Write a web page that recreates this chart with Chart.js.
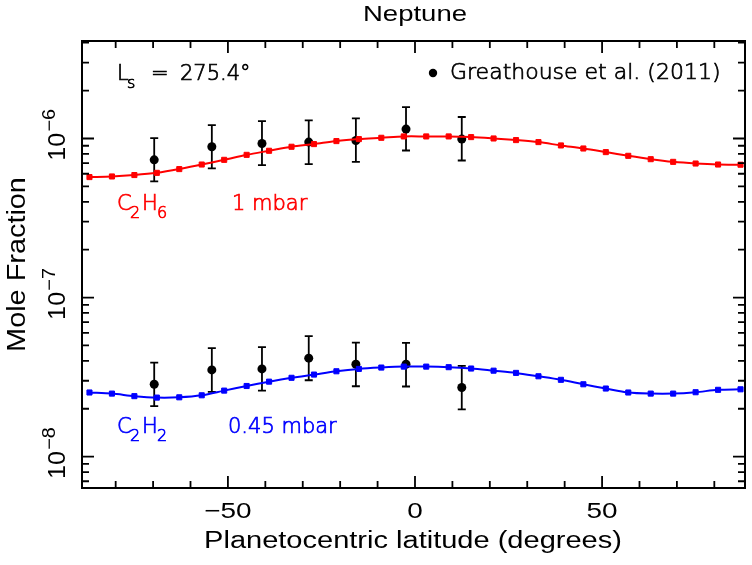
<!DOCTYPE html>
<html>
<head>
<meta charset="utf-8">
<script src="https://cdn.jsdelivr.net/npm/chart.js@4.4.1/dist/chart.umd.min.js"></script>
<style>
  html, body { margin: 0; padding: 0; background: #fff; }
  #wrap { width: 752px; height: 565px; }
</style>
</head>
<body>
<div id="wrap"><canvas id="chart" width="752" height="565"></canvas></div>
<script>
// ---- Data ----

// model latitudes (deg)
const MODEL_LAT = [-87, -81, -75, -69, -63, -57, -51, -45, -39, -33, -27, -21, -15, -9, -3,
                   3, 9, 15, 21, 27, 33, 39, 45, 51, 57, 63, 69, 75, 81, 87];

// C2H6 at 1 mbar (model)
const C2H6_MODEL = [5.72e-7, 5.77e-7, 5.89e-7, 6.08e-7, 6.42e-7, 6.86e-7, 7.34e-7, 7.89e-7,
                    8.37e-7, 8.87e-7, 9.22e-7, 9.63e-7, 9.91e-7, 1.01e-6, 1.03e-6, 1.03e-6,
                    1.03e-6, 1.02e-6, 1.00e-6, 9.77e-7, 9.49e-7, 9.04e-7, 8.65e-7, 8.21e-7,
                    7.78e-7, 7.41e-7, 7.13e-7, 6.96e-7, 6.86e-7, 6.84e-7];

// C2H2 at 0.45 mbar (model)
const C2H2_MODEL = [2.53e-8, 2.49e-8, 2.40e-8, 2.35e-8, 2.36e-8, 2.43e-8, 2.60e-8, 2.78e-8,
                    2.96e-8, 3.13e-8, 3.28e-8, 3.44e-8, 3.56e-8, 3.63e-8, 3.68e-8, 3.68e-8,
                    3.65e-8, 3.58e-8, 3.47e-8, 3.36e-8, 3.20e-8, 3.04e-8, 2.85e-8, 2.68e-8,
                    2.53e-8, 2.49e-8, 2.49e-8, 2.54e-8, 2.63e-8, 2.65e-8];

// Greathouse et al. (2011) observations
const OBS_LAT = [-69.7, -54.3, -40.9, -28.4, -15.8, -2.4, 12.5];
const C2H6_OBS = [7.34e-7, 8.87e-7, 9.30e-7, 9.49e-7, 9.71e-7, 1.146e-6, 9.91e-7];
const C2H6_LO  = [5.37e-7, 6.48e-7, 6.80e-7, 6.90e-7, 7.13e-7, 8.40e-7, 7.27e-7];
const C2H6_HI  = [1.006e-6, 1.214e-6, 1.285e-6, 1.30e-6, 1.336e-6, 1.576e-6, 1.365e-6];
const C2H2_OBS = [2.85e-8, 3.51e-8, 3.56e-8, 4.16e-8, 3.81e-8, 3.81e-8, 2.72e-8];
const C2H2_LO  = [2.08e-8, 2.55e-8, 2.60e-8, 3.02e-8, 2.77e-8, 2.76e-8, 1.98e-8];
const C2H2_HI  = [3.90e-8, 4.81e-8, 4.88e-8, 5.72e-8, 5.21e-8, 5.19e-8, 3.72e-8];

// axis ticks
const X_MAJOR = [-50, 0, 50];
const X_MINOR = [-80, -70, -60, -40, -30, -20, -10, 10, 20, 30, 40, 60, 70, 80];
const X_LABELS = ['\u221250', '0', '50'];
const Y_MAJOR = [1e-8, 1e-7, 1e-6];
const Y_EXP = ['\u22128', '\u22127', '\u22126'];
const Y_MINOR = [7e-9, 8e-9, 9e-9,
                 2e-8, 3e-8, 4e-8, 5e-8, 6e-8, 7e-8, 8e-8, 9e-8,
                 2e-7, 3e-7, 4e-7, 5e-7, 6e-7, 7e-7, 8e-7, 9e-7,
                 2e-6, 3e-6, 4e-6];

const RED = '#ff0000';
const BLUE = '#0000ff';
const HELV = "'Liberation Sans', Arial, sans-serif";
const PLOTFONT = "'DejaVu Sans', sans-serif";

const toXY = (xs, ys) => xs.map((x, i) => ({ x, y: ys[i] }));

// ---- text helper (stretched like the source figure) ----
function drawText(ctx, str, x, y, o) {
  ctx.save();
  ctx.translate(x, y);
  if (o.rot) ctx.rotate(o.rot);
  ctx.scale(o.sx || 1, o.sy || 1);
  ctx.font = o.font;
  ctx.fillStyle = o.color || '#000';
  ctx.textAlign = o.align || 'left';
  ctx.textBaseline = 'alphabetic';
  ctx.fillText(str, 0, 0);
  if (o.heavy) {
    ctx.strokeStyle = o.color || '#000';
    ctx.lineWidth = o.heavy;
    ctx.strokeText(str, 0, 0);
  }
  ctx.restore();
}

// ---- error bars, under the markers ----
const errorBars = {
  id: 'errorBars',
  beforeDatasetsDraw(chart) {
    const { ctx, scales: { x, y } } = chart;
    ctx.save();
    ctx.strokeStyle = '#000';
    ctx.lineWidth = 1.8;
    const sets = [[C2H6_LO, C2H6_HI], [C2H2_LO, C2H2_HI]];
    sets.forEach(([lo, hi]) => {
      OBS_LAT.forEach((lat, i) => {
        const px = x.getPixelForValue(lat);
        const y0 = y.getPixelForValue(lo[i]);
        const y1 = y.getPixelForValue(hi[i]);
        ctx.beginPath();
        ctx.moveTo(px, y0); ctx.lineTo(px, y1);
        ctx.moveTo(px - 4, y0); ctx.lineTo(px + 4, y0);
        ctx.moveTo(px - 4, y1); ctx.lineTo(px + 4, y1);
        ctx.stroke();
      });
    });
    ctx.restore();
  }
};

// ---- frame, inward ticks, labels and annotations ----
const frame = {
  id: 'frame',
  afterDraw(chart) {
    const { ctx, chartArea: a, scales: { x, y } } = chart;
    ctx.save();
    ctx.strokeStyle = '#000';
    ctx.lineWidth = 2;
    ctx.strokeRect(a.left, a.top, a.right - a.left, a.bottom - a.top);

    ctx.lineWidth = 1.8;
    ctx.beginPath();
    const xt = (v, len) => {
      const px = x.getPixelForValue(v);
      ctx.moveTo(px, a.bottom); ctx.lineTo(px, a.bottom - len);
      ctx.moveTo(px, a.top); ctx.lineTo(px, a.top + len);
    };
    const yt = (v, len) => {
      const py = y.getPixelForValue(v);
      ctx.moveTo(a.left, py); ctx.lineTo(a.left + len, py);
      ctx.moveTo(a.right, py); ctx.lineTo(a.right - len, py);
    };
    X_MAJOR.forEach(v => xt(v, 12));
    X_MINOR.forEach(v => xt(v, 7));
    Y_MAJOR.forEach(v => yt(v, 12));
    Y_MINOR.forEach(v => yt(v, 7));
    ctx.stroke();
    ctx.restore();

    // title and axis titles
    drawText(ctx, 'Neptune', 415, 21, { font: `22px ${HELV}`, sx: 1.25, align: 'center' });
    drawText(ctx, 'Planetocentric latitude (degrees)', 413, 548,
             { font: `23.5px ${HELV}`, sx: 1.235, align: 'center' });
    drawText(ctx, 'Mole Fraction', 25, (a.top + a.bottom) / 2,
             { font: `26px ${HELV}`, sx: 1.11, rot: -Math.PI / 2, align: 'center' });

    // x tick labels
    X_MAJOR.forEach((v, i) => {
      drawText(ctx, X_LABELS[i], x.getPixelForValue(v), 518,
               { font: `22px ${HELV}`, sx: 1.27, align: 'center' });
    });

    // y tick labels, rotated: 10^exp
    Y_MAJOR.forEach((v, i) => {
      const py = y.getPixelForValue(v);
      ctx.save();
      ctx.translate(65, py);
      ctx.rotate(-Math.PI / 2);
      ctx.scale(1.1, 1);
      ctx.fillStyle = '#000';
      ctx.textAlign = 'left';
      ctx.font = `23px ${HELV}`;
      const w1 = ctx.measureText('10').width;
      ctx.font = `18px ${HELV}`;
      const w2 = ctx.measureText(Y_EXP[i]).width;
      const start = -(w1 + w2) / 2 + 3 / 1.1;
      ctx.font = `23px ${HELV}`;
      ctx.fillText('10', start, 0);
      ctx.font = `18px ${HELV}`;
      ctx.fillText(Y_EXP[i], start + w1 + 1, -10);
      ctx.restore();
    });

    // annotations inside the plot (thin vector-style font)
    const big = `200 21px ${PLOTFONT}`;
    const sub = `200 16px ${PLOTFONT}`;
    const hv = 0.7;
    drawText(ctx, 'L', 117, 80, { font: big, heavy: hv });
    drawText(ctx, 's', 127, 88, { font: sub, heavy: hv });
    drawText(ctx, '=', 151, 80, { font: big, heavy: hv });
    drawText(ctx, '275.4\u00b0', 180, 80, { font: big, heavy: hv });

    ctx.save();
    ctx.fillStyle = '#000';
    ctx.beginPath();
    ctx.arc(433, 73, 4.2, 0, Math.PI * 2);
    ctx.fill();
    ctx.restore();
    drawText(ctx, 'Greathouse et al. (2011)', 450, 79, { font: `200 22px ${PLOTFONT}`, heavy: hv });

    drawText(ctx, 'C', 117, 210, { font: big, color: RED, heavy: hv });
    drawText(ctx, '2', 130, 218, { font: sub, color: RED, heavy: hv });
    drawText(ctx, 'H', 142, 210, { font: big, color: RED, heavy: hv });
    drawText(ctx, '6', 157, 218, { font: sub, color: RED, heavy: hv });
    drawText(ctx, '1 mbar', 232, 210, { font: big, color: RED, heavy: hv });

    drawText(ctx, 'C', 117, 433, { font: big, color: BLUE, heavy: hv });
    drawText(ctx, '2', 130, 441, { font: sub, color: BLUE, heavy: hv });
    drawText(ctx, 'H', 142, 433, { font: big, color: BLUE, heavy: hv });
    drawText(ctx, '2', 157, 441, { font: sub, color: BLUE, heavy: hv });
    drawText(ctx, '0.45 mbar', 228, 433, { font: big, color: BLUE, heavy: hv });
  }
};

const modelStyle = (color) => ({
  borderColor: color,
  backgroundColor: color,
  borderWidth: 2,
  pointStyle: 'rect',
  pointRadius: 3.6,
  pointBorderWidth: 1,
  tension: 0.3,
  showLine: true
});

const obsStyle = {
  borderColor: '#000',
  backgroundColor: '#000',
  pointStyle: 'circle',
  pointRadius: 4.5,
  pointBorderWidth: 0,
  showLine: false
};

new Chart(document.getElementById('chart'), {
  type: 'scatter',
  data: {
    datasets: [
      { label: 'C2H6 model', data: toXY(MODEL_LAT, C2H6_MODEL), ...modelStyle(RED) },
      { label: 'C2H2 model', data: toXY(MODEL_LAT, C2H2_MODEL), ...modelStyle(BLUE) },
      { label: 'C2H6 obs', data: toXY(OBS_LAT, C2H6_OBS), ...obsStyle },
      { label: 'C2H2 obs', data: toXY(OBS_LAT, C2H2_OBS), ...obsStyle }
    ]
  },
  options: {
    responsive: false,
    animation: false,
    layout: { padding: { left: 82, right: 7, top: 41, bottom: 77 } },
    scales: {
      x: { type: 'linear', min: -89, max: 88.2, display: false },
      y: { type: 'logarithmic', min: 6.35e-9, max: 4.1e-6, display: false }
    },
    plugins: {
      legend: { display: false },
      tooltip: { enabled: false },
      title: { display: false }
    }
  },
  plugins: [errorBars, frame]
});
</script>
</body>
</html>
